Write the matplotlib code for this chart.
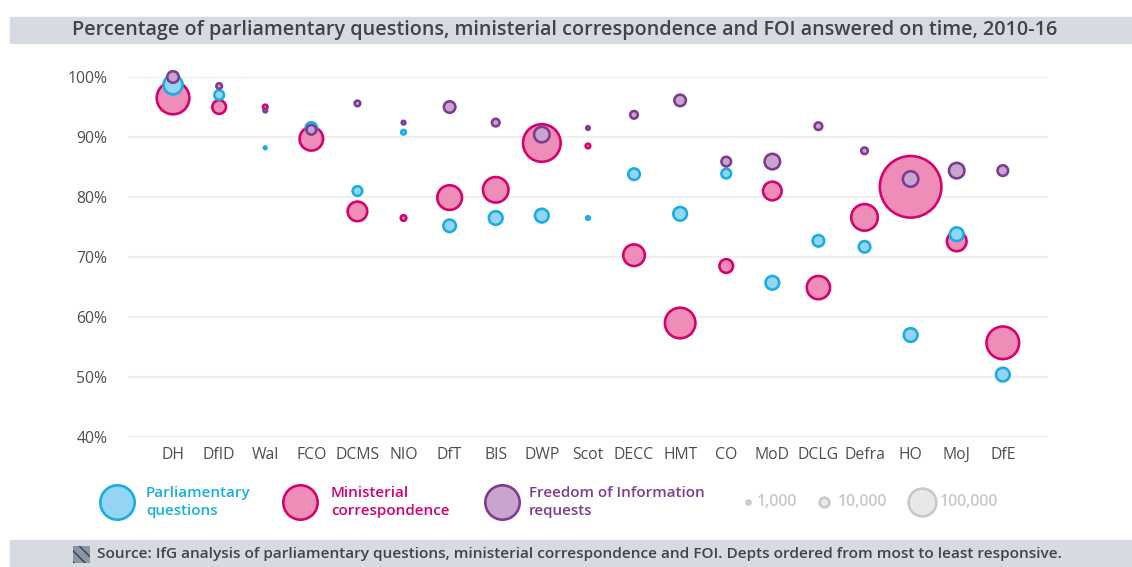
import matplotlib.pyplot as plt
from matplotlib.patches import Rectangle
import numpy as np

plt.rcParams['font.family'] = ['Open Sans', 'DejaVu Sans']

depts = ["DH", "DfID", "Wal", "FCO", "DCMS", "NIO", "DfT", "BIS", "DWP", "Scot",
         "DECC", "HMT", "CO", "MoD", "DCLG", "Defra", "HO", "MoJ", "DfE"]

# % answered on time
pq_pct = [98.7, 97.0, 88.2, 91.5, 81.0, 90.8, 75.2, 76.5, 76.9, 76.5,
          83.8, 77.2, 83.9, 65.7, 72.7, 71.7, 57.0, 73.8, 50.4]
mc_pct = [96.5, 95.0, 95.0, 89.7, 77.6, 76.5, 79.9, 81.2, 89.0, 88.5,
          70.3, 59.0, 68.5, 81.0, 64.9, 76.6, 81.7, 72.6, 55.7]
foi_pct = [100.0, 98.5, 94.4, 91.2, 95.6, 92.4, 95.0, 92.4, 90.4, 91.5,
           93.7, 96.1, 85.9, 85.9, 91.8, 87.7, 83.0, 84.4, 84.4]

# volumes (thousands)
pq_vol = [45, 10, 0.3, 15, 10, 1.6, 18, 22, 22, 0.8,
          15, 22, 10, 22, 15, 15, 22, 22, 22]
mc_vol = [140, 22, 1.6, 71, 48, 2.7, 78, 84, 188, 1.6,
          59, 122, 22, 43, 69, 91, 517, 48, 140]
foi_vol = [15, 2.7, 0.8, 10, 2.7, 0.8, 15, 5.8, 29, 0.8,
           5.8, 15, 10, 29, 5.8, 4.1, 29, 29, 12.5]

size_keys = [1, 10, 100]
size_labels = ["1,000", "10,000", "100,000"]

W, H = 1132, 567
PT = 0.72  # points per pixel at dpi 100
LW_PX = 2.6


def bubble_s(vol_k):
    r_out = 1.9 + 0.042 * np.sqrt(np.asarray(vol_k) * 1000.0)
    d = np.maximum(2 * r_out - LW_PX, 0.5)
    return (d * PT) ** 2


PQ_FILL, PQ_EDGE = "#93d5f3", "#18ade3"
MC_FILL, MC_EDGE = "#ee8db8", "#d6006e"
FOI_FILL, FOI_EDGE = "#c9a5cd", "#7d3c92"

fig = plt.figure(figsize=(W / 100, H / 100), dpi=100)

# title band
fig.patches.append(Rectangle((10 / W, 1 - 43 / H), 1 - 10 / W, 26 / H,
                             transform=fig.transFigure, color="#d5dbe1", zorder=0))
fig.text(565 / W, 1 - 30 / H,
         "Percentage of parliamentary questions, ministerial correspondence and FOI answered on time, 2010-16",
         ha="center", va="center", fontsize=14.2, fontweight="semibold", color="#3e4449")

# footer band
fig.patches.append(Rectangle((10 / W, 0), 1 - 10 / W, 27 / H,
                             transform=fig.transFigure, color="#d5dbe1", zorder=0))
fig.patches.append(Rectangle((73 / W, 1 - 563 / H), 17 / W, 17 / H,
                             transform=fig.transFigure, facecolor="#8a96a3",
                             edgecolor="#34404c", hatch="\\\\\\", lw=0, zorder=1))
fig.text(97 / W, 1 - 554 / H,
         "Source: IfG analysis of parliamentary questions, ministerial correspondence and FOI. Depts ordered from most to least responsive.",
         ha="left", va="center", fontsize=11.1, fontweight="semibold", color="#3e4449")

ax = fig.add_axes([128 / W, 1 - 437 / H, (1048 - 128) / W, 360 / H])
x = np.arange(len(depts))
ax.set_xlim(-0.977, 18.98)
ax.set_ylim(40, 100)

for yv in range(40, 101, 10):
    ax.axhline(yv, color="#efefef", lw=1.6, zorder=0)

ax.scatter(x, mc_pct, s=bubble_s(mc_vol), c=MC_FILL, edgecolors=MC_EDGE,
           linewidths=LW_PX * PT, zorder=2, clip_on=False)
ax.scatter(x, pq_pct, s=bubble_s(pq_vol), c=PQ_FILL, edgecolors=PQ_EDGE,
           linewidths=LW_PX * PT, zorder=3, clip_on=False)
ax.scatter(x, foi_pct, s=bubble_s(foi_vol), c=FOI_FILL, edgecolors=FOI_EDGE,
           linewidths=LW_PX * PT, zorder=4, clip_on=False)

ax.set_xticks(x)
ax.set_xticklabels(depts)
ax.set_yticks(range(40, 101, 10))
ax.set_yticklabels([f"{v}%" for v in range(40, 101, 10)])
ax.tick_params(length=0, labelsize=11.3, colors="#4a4f55")
ax.tick_params(axis="x", pad=7)
ax.tick_params(axis="y", pad=15)
for sp in ax.spines.values():
    sp.set_visible(False)

# legend drawn in pixel coordinates
lg = fig.add_axes([0, 0, 1, 1], facecolor="none")
lg.set_xlim(0, W)
lg.set_ylim(H, 0)
lg.axis("off")

ly = 502
series_leg = [
    (117, PQ_FILL, PQ_EDGE, "Parliamentary\nquestions", 146),
    (300, MC_FILL, MC_EDGE, "Ministerial\ncorrespondence", 331),
    (502, FOI_FILL, FOI_EDGE, "Freedom of Information\nrequests", 529),
]
for cx, fc, ec, lab, tx in series_leg:
    d = 2 * 18.5 - LW_PX
    lg.scatter([cx], [ly], s=(d * PT) ** 2, c=fc, edgecolors=ec, linewidths=LW_PX * PT)
    lg.text(tx, ly, lab, ha="left", va="center", fontsize=10.9,
            fontweight="semibold", color=ec, linespacing=1.4)

size_cx = [748, 824, 922]
size_tx = [757, 838, 940]
for k, lab, cx, tx in zip(size_keys, size_labels, size_cx, size_tx):
    lg.scatter([cx], [ly], s=bubble_s(k), c="#e7e8ea", edgecolors="#c6c8cb",
               linewidths=LW_PX * PT)
    lg.text(tx, ly, lab, ha="left", va="center", fontsize=11.4,
            fontweight="semibold", color="#c6c8cb")

fig.savefig("out.png", dpi=100)
